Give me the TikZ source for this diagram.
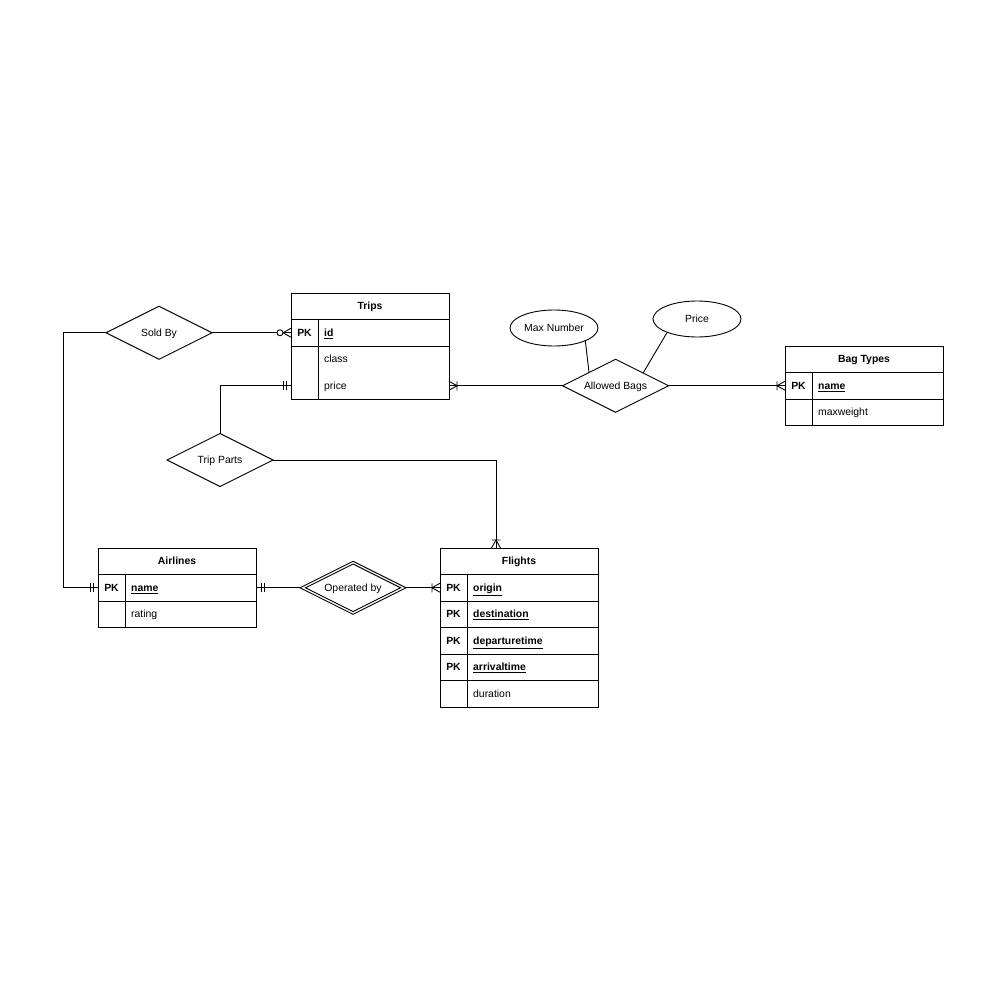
\documentclass[tikz,border=0pt]{standalone}
\usepackage{fontspec}
\setmainfont{Liberation Sans}
\usetikzlibrary{shapes.geometric,calc}

\tikzset{
  txt/.style={font=\fontsize{10.4}{12}\selectfont, text height=7.4pt, text depth=0pt},
  tbl/.style={draw, line width=0.9pt, minimum width=158pt, minimum height=26.5pt, inner sep=0pt, outer sep=0pt, txt},
  hdr/.style={tbl, font=\fontsize{10.4}{12}\selectfont\bfseries},
  cell/.style={minimum width=158pt, minimum height=26.5pt, inner sep=0pt, outer sep=0pt},
  keytxt/.style={inner sep=0pt, txt, font=\fontsize{10.4}{12}\selectfont\bfseries},
  fld/.style={anchor=west, inner sep=0pt, txt},
  keyfld/.style={fld, font=\fontsize{10.4}{12}\selectfont\bfseries},
  rel/.style={draw, line width=0.9pt, diamond, aspect=2, minimum width=106pt, minimum height=53pt, inner sep=0pt, outer sep=0pt, txt},
  attr/.style={draw, line width=0.9pt, ellipse, minimum width=88pt, minimum height=36pt, inner sep=0pt, outer sep=0pt, txt},
  link/.style={draw, line width=0.9pt},
  pics/mandone/.style={code={\draw[line width=0.9pt] (-5,-4.5)--(-5,4.5) (-8,-4.5)--(-8,4.5);}},
  pics/onemany/.style={code={\draw[line width=0.9pt] (-8,-4.5)--(-8,4.5) (0,-4.5)--(-8,0)--(0,4.5);}},
  pics/zeromany/.style={code={\draw[line width=0.9pt] (0,-4.5)--(-8,0)--(0,4.5); \draw[line width=0.9pt, fill=white] (-11,0) circle (3pt);}},
}

\begin{document}
\begin{tikzpicture}[x=1pt, y=-1pt]
\useasboundingbox[fill=white] (0,0) rectangle (1000,1000);

% ---- Trips ----
\node[hdr] (tr-h) at (370,306.25) {Trips};
\node[tbl] (tr-pk) at (370,332.75) {};
\node[cell] (tr-class) at (370,359.25) {};
\node[cell] (tr-price) at (370,385.75) {};
\draw[line width=0.9pt] (tr-class.north west) rectangle (tr-price.south east);
\draw[line width=0.9pt] (318,319.5) -- (318,399);
\node[keytxt, xshift=13.5pt] (tr-pk-k) at (tr-pk.west) {PK};
\node[keyfld, xshift=33pt] (tr-pk-f) at (tr-pk.west) {\underline{id}};
\node[fld, xshift=33pt] (tr-class-f) at (tr-class.west) {class};
\node[fld, xshift=33pt] (tr-price-f) at (tr-price.west) {price};

% ---- Bag Types ----
\node[hdr] (bt-h) at (864,359.25) {Bag Types};
\node[tbl] (bt-pk) at (864,385.75) {};
\node[tbl] (bt-mw) at (864,412.25) {};
\draw[line width=0.9pt] (812,372.5) -- (812,425.5);
\node[keytxt, xshift=13.5pt] (bt-pk-k) at (bt-pk.west) {PK};
\node[keyfld, xshift=33pt] (bt-pk-f) at (bt-pk.west) {\underline{name}};
\node[fld, xshift=33pt] (bt-mw-f) at (bt-mw.west) {maxweight};

% ---- Airlines ----
\node[hdr] (al-h) at (177,561.25) {Airlines};
\node[tbl] (al-pk) at (177,587.75) {};
\node[tbl] (al-rt) at (177,614.25) {};
\draw[line width=0.9pt] (125,574.5) -- (125,627.5);
\node[keytxt, xshift=13.5pt] (al-pk-k) at (al-pk.west) {PK};
\node[keyfld, xshift=33pt] (al-pk-f) at (al-pk.west) {\underline{name}};
\node[fld, xshift=33pt] (al-rt-f) at (al-rt.west) {rating};

% ---- Flights ----
\node[hdr] (fl-h) at (519,561.25) {Flights};
\node[tbl] (fl-or) at (519,587.75) {};
\node[tbl] (fl-de) at (519,614.25) {};
\node[tbl] (fl-dt) at (519,640.75) {};
\node[tbl] (fl-at) at (519,667.25) {};
\node[tbl] (fl-du) at (519,693.75) {};
\draw[line width=0.9pt] (467,574.5) -- (467,707);
\node[keytxt, xshift=13.5pt] (fl-or-k) at (fl-or.west) {PK};
\node[keytxt, xshift=13.5pt] (fl-de-k) at (fl-de.west) {PK};
\node[keytxt, xshift=13.5pt] (fl-dt-k) at (fl-dt.west) {PK};
\node[keytxt, xshift=13.5pt] (fl-at-k) at (fl-at.west) {PK};
\node[keyfld, xshift=33pt] (fl-or-f) at (fl-or.west) {\underline{origin}};
\node[keyfld, xshift=33pt] (fl-de-f) at (fl-de.west) {\underline{destination}};
\node[keyfld, xshift=33pt] (fl-dt-f) at (fl-dt.west) {\underline{departuretime}};
\node[keyfld, xshift=33pt] (fl-at-f) at (fl-at.west) {\underline{arrivaltime}};
\node[fld, xshift=33pt] (fl-du-f) at (fl-du.west) {duration};

% ---- Relationships ----
\node[rel] (sold) at (159,332.75) {Sold By};
\node[rel] (allowed) at (615.5,385.75) {Allowed Bags};
\node[rel] (tparts) at (220,460) {Trip Parts};
\node[rel] (opby) at (353,587.75) {};
\node[rel, minimum width=95pt, minimum height=47.5pt] (opby-in) at (353,587.75) {Operated by};

% ---- Attributes ----
\node[attr] (maxnum) at (554,328) {Max Number};
\node[attr] (price) at (697,319) {Price};

% ---- Connectors ----
\coordinate (sbturn) at (63,332.75);
\coordinate (fltop) at (496,548);
\path[link] (sold.west) -- (sbturn) |- (al-pk.west);
\path[link] (sold.east) -- (tr-pk.west);
\path[link] (tr-price.west) -| (tparts.north);
\path[link] (tparts.east) -| (fltop);
\path[link] (tr-price.east) -- (allowed.west);
\path[link] (allowed.east) -- (bt-pk.west);
\path[link] (maxnum.-22) -- ($(allowed.north)!0.5!(allowed.west)$);
\path[link] (price.-156) -- ($(allowed.north)!0.52!(allowed.east)$);
\path[link] (al-pk.east) -- (opby.west);
\path[link] (opby.east) -- (fl-or.west);

% ---- Cardinality marks ----
\pic at (al-pk.west) {mandone};
\pic at (tr-pk.west) {zeromany};
\pic at (tr-price.west) {mandone};
\pic[rotate=-90] at (fltop) {onemany};
\pic[rotate=180] at (tr-price.east) {onemany};
\pic at (bt-pk.west) {onemany};
\pic[rotate=180] at (al-pk.east) {mandone};
\pic at (fl-or.west) {onemany};
\end{tikzpicture}
\end{document}
